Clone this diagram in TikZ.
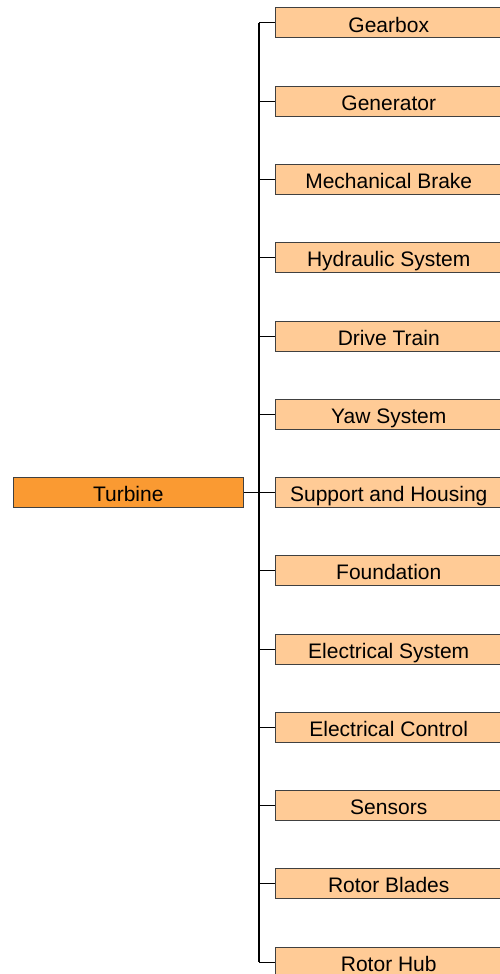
\documentclass[tikz,border=0pt]{standalone}
\usepackage{fontspec}
\setmainfont{Liberation Sans}
\definecolor{rootfill}{HTML}{FA9A32}
\definecolor{childfill}{HTML}{FFCB96}
\definecolor{boxline}{HTML}{404040}
\begin{document}
\begin{tikzpicture}[x=1pt,y=-1pt,
  box/.style={draw=boxline, line width=1pt, inner sep=0pt, minimum height=30pt, text height=19pt, text depth=0.8pt, font=\fontsize{21}{25}\selectfont},
  rootbox/.style={box, fill=rootfill, minimum width=229.5pt},
  childbox/.style={box, fill=childfill, minimum width=227.5pt, anchor=west},
  spine/.style={line width=1.5pt, black},
  stub/.style={line width=1pt, black}]
\useasboundingbox (0,0) rectangle (500,974);
\clip (0,0) rectangle (500,974);
\node[rootbox] (root) at (128.25,492.25) {Turbine};
\coordinate (hub) at (259,492.25);
\foreach \i/\t in {0/Gearbox,1/Generator,2/Mechanical Brake,3/Hydraulic System,4/Drive Train,5/Yaw System,6/Support and Housing,7/Foundation,8/Electrical System,9/Electrical Control,10/Sensors,11/Rotor Blades,12/Rotor Hub}{
  \node[childbox] (c\i) at (274.5,{23+78.25*\i}) {\t};
}
\draw[spine] (c0.west -| hub) -- (c12.west -| hub);
\draw[spine] (root.east) -- (hub);
\foreach \i in {0,...,12}{
  \draw[stub] (hub) |- (c\i.west);
}
\end{tikzpicture}
\end{document}
